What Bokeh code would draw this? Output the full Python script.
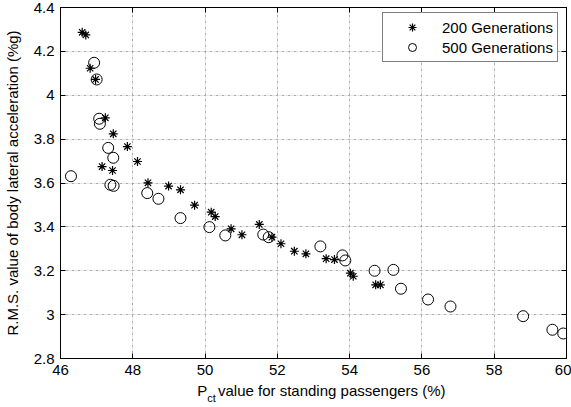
import json
from bokeh.plotting import figure
from bokeh.models import (LinearAxis, FixedTicker, Legend, LegendItem,
                          Range1d, ColumnDataSource, CustomJSTickFormatter, Grid)
from bokeh.embed import file_html
from bokeh.resources import INLINE

# ---- data ----
x200 = [46.60, 46.70, 46.82, 46.97, 47.24, 47.46, 47.85, 47.15, 47.44, 48.13,
        48.42, 48.99, 49.32, 49.71, 50.17, 50.28, 50.72, 51.02, 51.50, 51.85,
        52.10, 52.47, 52.79, 53.35, 53.58, 54.02, 54.10, 54.72, 54.85]
y200 = [4.287, 4.275, 4.123, 4.072, 3.897, 3.824, 3.766, 3.675, 3.657, 3.698,
        3.601, 3.586, 3.569, 3.499, 3.467, 3.447, 3.391, 3.364, 3.411, 3.353,
        3.323, 3.289, 3.277, 3.255, 3.251, 3.189, 3.175, 3.136, 3.136]

x500 = [46.29, 46.93, 47.00, 47.07, 47.09, 47.32, 47.46, 47.38, 47.47, 48.40,
        48.71, 49.32, 50.12, 50.56, 51.61, 51.76, 53.19, 53.80, 53.88, 54.69,
        55.21, 55.42, 56.17, 56.79, 58.80, 59.61, 59.91]
y500 = [3.631, 4.148, 4.072, 3.893, 3.870, 3.760, 3.715, 3.592, 3.587, 3.554,
        3.528, 3.440, 3.399, 3.361, 3.365, 3.353, 3.311, 3.270, 3.247, 3.200,
        3.204, 3.118, 3.069, 3.037, 2.993, 2.931, 2.914]

x_ticks = [46, 48, 50, 52, 54, 56, 58, 60]
y_ticks = [2.8, 3.0, 3.2, 3.4, 3.6, 3.8, 4.0, 4.2, 4.4]

series_labels = ["200 Generations", "500 Generations"]
x_label_main = "P"
x_label_sub = "ct"
x_label_rest = "value for standing passengers (%)"
y_label = "R.M.S. value of body lateral acceleration (%g)"

FONT = "Liberation Sans"
FS = "15px"

p = figure(width=571, height=407, output_backend="svg", toolbar_location=None,
           x_range=Range1d(46, 60), y_range=Range1d(2.8, 4.4),
           min_border_left=59, min_border_right=5, min_border_top=7,
           min_border_bottom=49, x_axis_location=None, y_axis_location=None)
p.background_fill_color = "white"
p.border_fill_color = "white"
p.outline_line_color = "black"
p.outline_line_width = 1

fmt = CustomJSTickFormatter(code="return String(Math.round(tick*10)/10);")
blank = CustomJSTickFormatter(code="return '';")

def make_axis(ticks, show_labels, label=""):
    ax = LinearAxis(ticker=FixedTicker(ticks=ticks),
                    formatter=fmt if show_labels else blank)
    ax.axis_line_color = "black"
    ax.major_tick_in = 5
    ax.major_tick_out = 0
    ax.minor_tick_line_color = None
    ax.major_tick_line_color = "black"
    ax.major_label_text_font = FONT
    ax.major_label_text_color = "black"
    ax.major_label_text_font_size = FS
    ax.major_label_standoff = 6 if show_labels else 0
    if label:
        ax.axis_label = label
        ax.axis_label_text_font = FONT
        ax.axis_label_text_font_size = FS
        ax.axis_label_text_font_style = "normal"
        ax.axis_label_text_color = "black"
        ax.axis_label_standoff = 10
    return ax

def text_axis(positions, texts, size, standoff):
    """An axis with no line or ticks, used only to write the x-axis title."""
    code = "const t = %s; return t[index];" % json.dumps(texts)
    ax = LinearAxis(ticker=FixedTicker(ticks=positions),
                    formatter=CustomJSTickFormatter(code=code))
    ax.axis_line_color = None
    ax.major_tick_line_color = None
    ax.minor_tick_line_color = None
    ax.major_tick_in = 0
    ax.major_tick_out = 0
    ax.major_label_text_font = FONT
    ax.major_label_text_font_size = size
    ax.major_label_text_color = "black"
    ax.major_label_standoff = standoff
    return ax

p.add_layout(make_axis(x_ticks, True), "below")
p.add_layout(make_axis(y_ticks, True, y_label), "left")
p.add_layout(make_axis(x_ticks, False), "above")
p.add_layout(make_axis(y_ticks, False), "right")

# x-axis title "P_ct value for standing passengers (%)" (centres in data units)
p.add_layout(text_axis([49.921, 53.506], [x_label_main, x_label_rest], FS, 4), "below")
p.add_layout(text_axis([50.178], [x_label_sub], "11px", -10), "below")

for dim, ticks in ((0, x_ticks), (1, y_ticks)):
    g = Grid(dimension=dim, ticker=FixedTicker(ticks=ticks))
    g.grid_line_color = "#777777"
    g.grid_line_dash = "1 5"
    g.grid_line_width = 1
    p.add_layout(g)

s200 = ColumnDataSource(dict(x=x200, y=y200))
s500 = ColumnDataSource(dict(x=x500, y=y500))
r1 = p.scatter("x", "y", source=s200, marker="asterisk", size=9,
               line_color="black", line_width=1.2)
r2 = p.scatter("x", "y", source=s500, marker="circle", size=11,
               fill_color=None, line_color="black", line_width=1)

leg = Legend(items=[LegendItem(label=series_labels[0], renderers=[r1]),
                    LegendItem(label=series_labels[1], renderers=[r2])],
             location=(322, 296), margin=0, padding=4, spacing=0,
             glyph_width=50, glyph_height=20, label_height=20,
             label_standoff=5, label_text_font=FONT, label_text_font_size=FS,
             label_text_color="black", border_line_color="black",
             border_line_width=1, background_fill_color="white",
             background_fill_alpha=1)
p.add_layout(leg, "center")

open("out.html", "w").write(file_html(p, INLINE))
